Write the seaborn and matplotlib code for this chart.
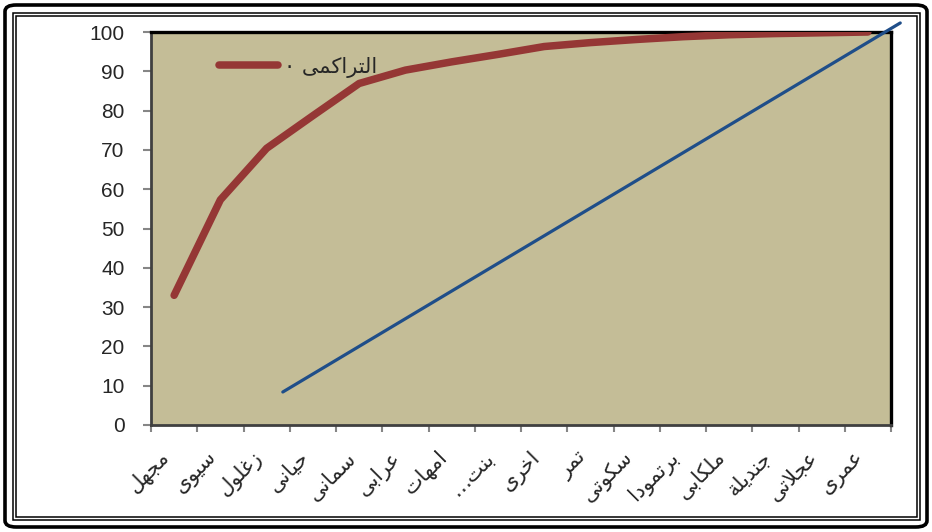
import matplotlib
matplotlib.use("Agg")
import matplotlib.pyplot as plt
import matplotlib.patches as mpatches
import seaborn as sns
import pandas as pd

# Categories (right-to-left Arabic names) and cumulative percentage
categories = ["مجهل", "سيوى", "زغلول", "حيانى", "سمانى", "عرابى", "امهات", "بنت…",
              "اخرى", "تمر", "سكوتى", "برتمودا", "ملكابى", "جنديلة", "عجلاتى", "عمرى"]
cumulative = [33, 57.3, 70.4, 78.7, 86.9, 90.3, 92.4, 94.3,
              96.3, 97.3, 98.1, 98.8, 99.3, 99.6, 99.8, 100]
series_name = "التراكمى ٠"

# Straight reference line (category position, value) at its two ends
ref_x = [2.35, 15.7]
ref_y = [8.4, 102.3]

y_ticks = list(range(0, 101, 10))

# --- minimal Arabic shaping into presentation forms (isolated, final, initial, medial)
FORMS = {
    "ا": ("\uFE8D", "\uFE8E", None, None),
    "ب": ("\uFE8F", "\uFE90", "\uFE91", "\uFE92"),
    "ة": ("\uFE93", "\uFE94", None, None),
    "ت": ("\uFE95", "\uFE96", "\uFE97", "\uFE98"),
    "ج": ("\uFE9D", "\uFE9E", "\uFE9F", "\uFEA0"),
    "ح": ("\uFEA1", "\uFEA2", "\uFEA3", "\uFEA4"),
    "خ": ("\uFEA5", "\uFEA6", "\uFEA7", "\uFEA8"),
    "د": ("\uFEA9", "\uFEAA", None, None),
    "ر": ("\uFEAD", "\uFEAE", None, None),
    "ز": ("\uFEAF", "\uFEB0", None, None),
    "س": ("\uFEB1", "\uFEB2", "\uFEB3", "\uFEB4"),
    "ع": ("\uFEC9", "\uFECA", "\uFECB", "\uFECC"),
    "غ": ("\uFECD", "\uFECE", "\uFECF", "\uFED0"),
    "ك": ("\uFED9", "\uFEDA", "\uFEDB", "\uFEDC"),
    "ل": ("\uFEDD", "\uFEDE", "\uFEDF", "\uFEE0"),
    "م": ("\uFEE1", "\uFEE2", "\uFEE3", "\uFEE4"),
    "ن": ("\uFEE5", "\uFEE6", "\uFEE7", "\uFEE8"),
    "ه": ("\uFEE9", "\uFEEA", "\uFEEB", "\uFEEC"),
    "و": ("\uFEED", "\uFEEE", None, None),
    "ى": ("\uFEEF", "\uFEF0", None, None),
    "ي": ("\uFEF1", "\uFEF2", "\uFEF3", "\uFEF4"),
}


def shape(text):
    chars = list(text)
    out = []
    i = 0
    while i < len(chars):
        c = chars[i]
        if c not in FORMS:
            out.append(c)
            i += 1
            continue
        prev_joins = i > 0 and chars[i - 1] in FORMS and FORMS[chars[i - 1]][2] is not None
        if c == "ل" and i + 1 < len(chars) and chars[i + 1] == "ا":
            out.append("\uFEFC" if prev_joins else "\uFEFB")
            i += 2
            continue
        iso, fin, ini, med = FORMS[c]
        can_next = ini is not None and i + 1 < len(chars) and chars[i + 1] in FORMS
        if prev_joins and can_next:
            g = med
        elif prev_joins:
            g = fin
        elif can_next:
            g = ini
        else:
            g = iso
        out.append(g)
        i += 1
    return "".join(reversed(out))


sns.set_theme(style="white")
plt.rcParams["font.family"] = ["DejaVu Sans"]

W, H = 932, 532
fig = plt.figure(figsize=(W / 100, H / 100), dpi=100)
fig.patch.set_facecolor("white")

# plot area in pixels: left 151, right 891, top 32, bottom 425
ax = fig.add_axes([151 / W, 1 - 425 / H, 740 / W, 393 / H])
ax.set_facecolor("#C4BD97")

df = pd.DataFrame({"pos": range(len(categories)), "value": cumulative})
sns.lineplot(data=df, x="pos", y="value", ax=ax, color="#953735", linewidth=5.4,
             solid_capstyle="round", solid_joinstyle="round", label=shape(series_name),
             zorder=3)

ax.plot(ref_x, ref_y, color="#1F4E89", linewidth=2.3, clip_on=False, zorder=4)

ax.set_xlim(-0.5, len(categories) - 0.5)
ax.set_ylim(0, 100)
ax.set_xlabel("")
ax.set_ylabel("")

# category boundaries as major ticks, names at the centres
ax.set_xticks([i - 0.5 for i in range(len(categories) + 1)])
ax.set_xticklabels([])
ax.set_xticks(list(range(len(categories))), minor=True)
ax.set_xticklabels([shape(c) for c in categories], minor=True, rotation=45,
                   ha="right", va="top", fontsize=15, family=["DejaVu Sans"])
for lbl in ax.get_xticklabels(minor=True):
    lbl.set_x(lbl.get_position()[0] + 0.1)
ax.tick_params(axis="x", which="major", length=5, width=1.5, color="#868686",
               direction="out", bottom=True)
ax.tick_params(axis="x", which="minor", length=0, pad=16, bottom=True)

ax.set_yticks(y_ticks)
ax.set_yticklabels([str(v) for v in y_ticks], fontsize=15, family=["Liberation Sans"])
ax.tick_params(axis="y", length=6, width=1.5, color="#868686", direction="out",
               pad=13, left=True)

for side in ("left", "bottom"):
    ax.spines[side].set_color("#404040")
    ax.spines[side].set_linewidth(2)
for side in ("top", "right"):
    ax.spines[side].set_color("black")
    ax.spines[side].set_linewidth(2.4)

leg = ax.legend(loc="upper left", bbox_to_anchor=(0.066, 0.985), frameon=False,
                handlelength=2.85, handletextpad=0.3,
                prop={"family": ["DejaVu Sans"], "size": 15})

# compound outer frame of the chart area
def frame(x0, y0, x1, y1, lw, rounded=False):
    if rounded:
        p = mpatches.FancyBboxPatch((x0 / W, 1 - y1 / H), (x1 - x0) / W, (y1 - y0) / H,
                                    boxstyle="round,pad=0,rounding_size=0.012",
                                    transform=fig.transFigure, fill=False,
                                    edgecolor="black", linewidth=lw)
    else:
        p = mpatches.Rectangle((x0 / W, 1 - y1 / H), (x1 - x0) / W, (y1 - y0) / H,
                               transform=fig.transFigure, fill=False,
                               edgecolor="black", linewidth=lw)
    fig.add_artist(p)


frame(5, 5, 927, 527, 2.6, rounded=True)
frame(13, 13, 920, 520, 1.1)
frame(16, 16, 917, 517, 1.1)

fig.savefig("out.png", dpi=100, facecolor="white")
